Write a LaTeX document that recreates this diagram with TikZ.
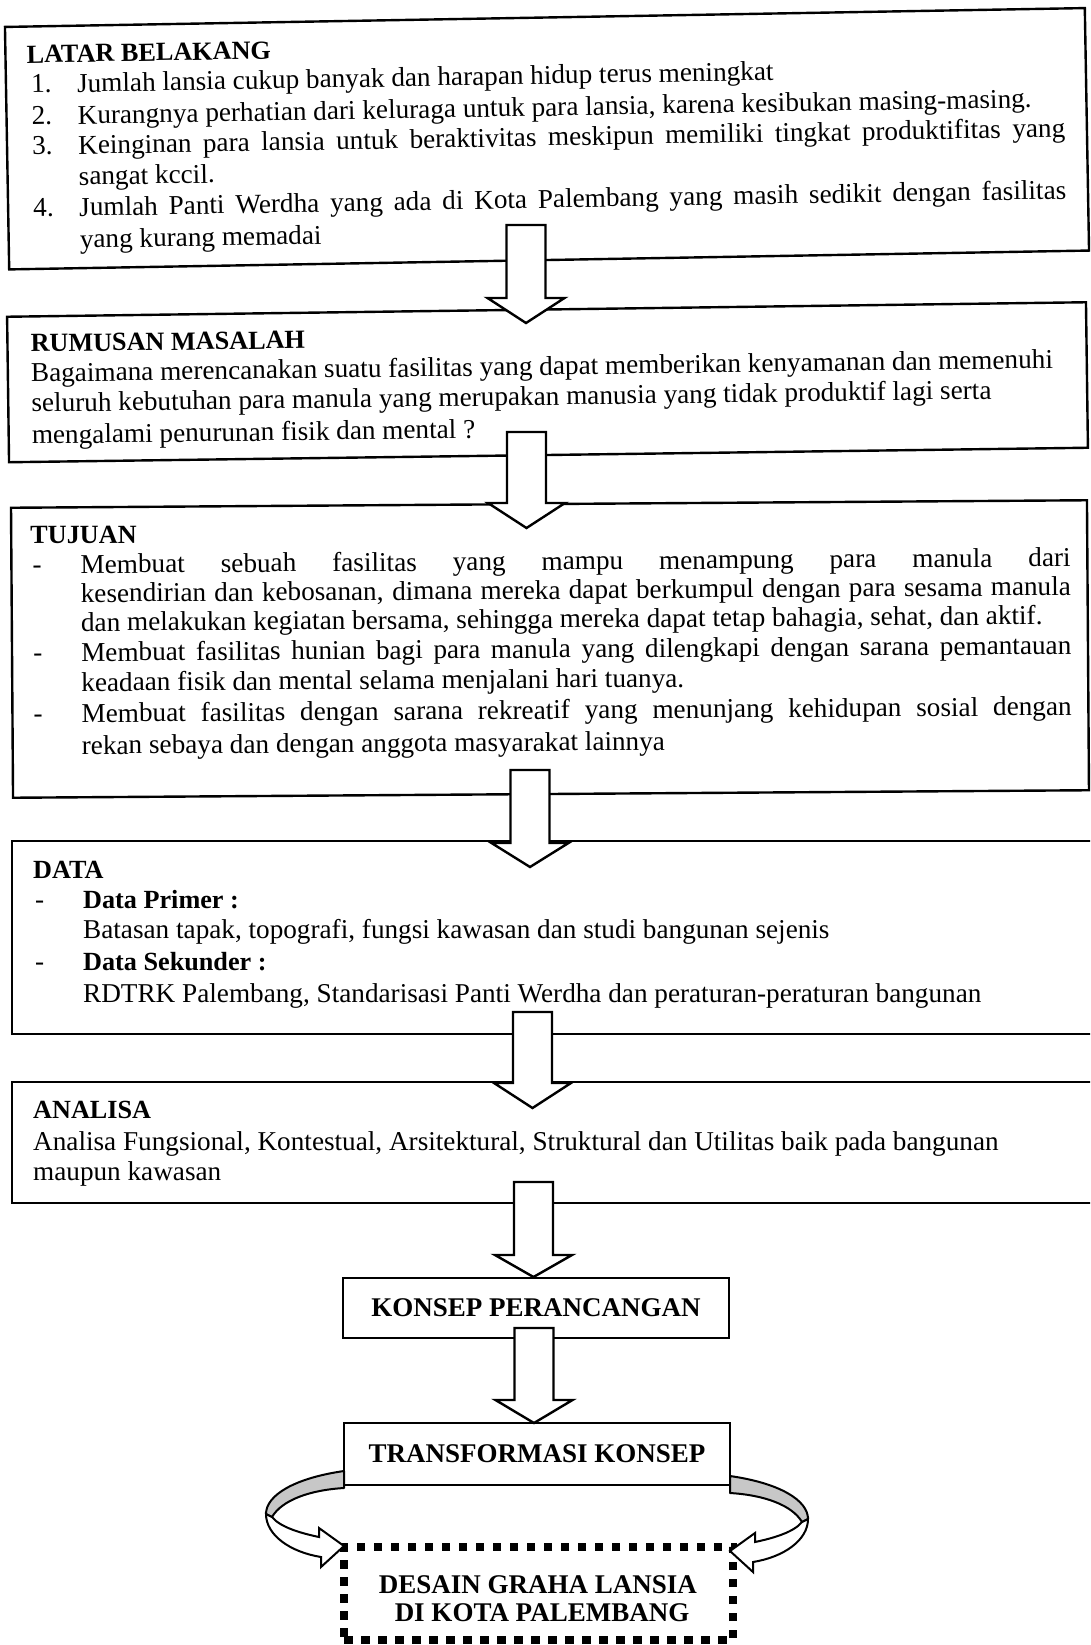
\documentclass[tikz,border=0pt]{standalone}
\usepackage{fontspec}
\setmainfont{Liberation Serif}
\newcommand\bodyfont{\fontsize{27.2}{30}\selectfont}
\newcommand\headfont{\bfseries\fontsize{26.2}{29}\selectfont}
\newcommand\bigfont{\bfseries\fontsize{27}{30}\selectfont}
\newcommand\jl[2]{\makebox[#1pt][s]{#2}}
\newcommand\barrow[4]{%
  \draw[blockarrow] ({#1-19.5},#2) -- ({#1+19.5},#2) -- ({#1+19.5},#3) -- ({#1+38.5},#3)
    -- (#1,#4) -- ({#1-38.5},#3) -- ({#1-19.5},#3) -- cycle;}
\begin{document}
\begin{tikzpicture}[x=1pt,y=-1pt,
  boxline/.style={line width=2.4pt},
  ln/.style={anchor=base west, inner sep=0pt, font=\bodyfont},
  hd/.style={anchor=base west, inner sep=0pt, font=\headfont},
  blockarrow/.style={draw, fill=white, line width=2.4pt, line join=miter},
  bbox/.style={draw, fill=white, line width=2.4pt, minimum width=386pt, minimum height=60pt, inner sep=0pt, font=\bigfont},
  dotbox/.style={draw, line width=8.5pt, dash pattern=on 8.5pt off 8.5pt, minimum width=389pt, minimum height=93pt, inner sep=0pt},
  bandshade/.style={draw, fill=black!22, line width=2pt, line join=round},
  bandwhite/.style={draw, fill=white, line width=2pt, line join=miter},
]
\useasboundingbox (0,0) rectangle (1090,1645);
\clip (0,0) rectangle (1090,1645);

% ---------- LATAR BELAKANG ----------
\begin{scope}[rotate around={1:(547,139)}, transform shape]
\draw[boxline] (7,17.5) rectangle (1087,260);
\node[hd] (lb) at (28,54) {LATAR BELAKANG};
\node[ln] (n1) at (32,84) {1.};
\node[ln] (t1) at (78,84) {Jumlah lansia cukup banyak dan harapan hidup terus meningkat};
\node[ln] (n2) at (32,116) {2.};
\node[ln] (t2) at (78,116) {Kurangnya perhatian dari keluraga untuk para lansia, karena kesibukan masing-masing.};
\node[ln] (n3) at (32,146) {3.};
\node[ln] (t3) at (78,146) {\jl{987}{Keinginan para lansia untuk beraktivitas meskipun memiliki tingkat produktifitas yang}};
\node[ln] (t3b) at (78,177) {sangat kccil.};
\node[ln] (n4) at (32,208) {4.};
\node[ln] (t4) at (78,208) {\jl{987}{Jumlah Panti Werdha yang ada di Kota Palembang yang masih sedikit dengan fasilitas}};
\node[ln] (t4b) at (78,240) {yang kurang memadai};
\end{scope}

% ---------- RUMUSAN MASALAH ----------
\begin{scope}[rotate around={0.77:(547,382)}, transform shape]
\draw[boxline] (8,309.5) rectangle (1087,455);
\node[hd] (rm) at (31,345) {RUMUSAN MASALAH};
\node[ln] (r1) at (31,375) {Bagaimana merencanakan suatu fasilitas yang dapat memberikan kenyamanan dan memenuhi};
\node[ln] (r2) at (31,405) {seluruh kebutuhan para manula yang merupakan manusia yang tidak produktif lagi serta};
\node[ln] (r3) at (31,437) {mengalami penurunan fisik dan mental ?};
\end{scope}

% ---------- TUJUAN ----------
\begin{scope}[rotate around={0.4:(550,650)}, transform shape]
\draw[boxline] (12,504) rectangle (1088,794);
\node[hd] (tj) at (31,540) {TUJUAN};
\node[ln] (d1) at (33,570) {-};
\node[ln] (u1) at (81,570) {\jl{990}{Membuat sebuah fasilitas yang mampu menampung para manula dari}};
\node[ln] (u2) at (81,599) {\jl{990}{kesendirian dan kebosanan, dimana mereka dapat berkumpul dengan para sesama manula}};
\node[ln] (u3) at (81,628) {dan melakukan kegiatan bersama, sehingga mereka dapat tetap bahagia, sehat, dan aktif.};
\node[ln] (d2) at (33,658) {-};
\node[ln] (u4) at (81,658) {\jl{990}{Membuat fasilitas hunian bagi para manula yang dilengkapi dengan sarana pemantauan}};
\node[ln] (u5) at (81,688) {keadaan fisik dan mental selama menjalani hari tuanya.};
\node[ln] (d3) at (33,719) {-};
\node[ln] (u6) at (81,719) {\jl{990}{Membuat fasilitas dengan sarana rekreatif yang menunjang kehidupan sosial dengan}};
\node[ln] (u7) at (81,751) {rekan sebaya dan dengan anggota masyarakat lainnya};
\end{scope}

% ---------- DATA ----------
\draw[boxline] (1100,841) -- (12,841) -- (12,1034) -- (1100,1034);
\node[hd] (dt) at (33,878) {DATA};
\node[ln] (e1) at (35,908) {-};
\node[hd] (dp) at (83,908) {Data Primer :};
\node[ln] (dpt) at (83,938) {Batasan tapak, topografi, fungsi kawasan dan studi bangunan sejenis};
\node[ln] (e2) at (35,970) {-};
\node[hd] (ds) at (83,970) {Data Sekunder :};
\node[ln] (dst) at (83,1002) {RDTRK Palembang, Standarisasi Panti Werdha dan peraturan-peraturan bangunan};

% ---------- ANALISA ----------
\draw[boxline] (1100,1082) -- (12,1082) -- (12,1203) -- (1100,1203);
\node[hd] (an) at (33,1118) {ANALISA};
\node[ln] (a1) at (33,1150) {Analisa Fungsional, Kontestual, Arsitektural, Struktural dan Utilitas baik pada bangunan};
\node[ln] (a2) at (33,1180) {maupun kawasan};

% ---------- bottom boxes ----------
\node[bbox] (konsep) at (536,1308) {KONSEP PERANCANGAN};
\node[bbox, minimum height=62pt] (transf) at (537,1454) {TRANSFORMASI KONSEP};
\node[dotbox] (desain) at (538.5,1593.5) {};
\node[anchor=base, inner sep=0pt, font=\bigfont] (g1) at (538,1593) {DESAIN GRAHA LANSIA};
\node[anchor=base, inner sep=0pt, font=\bigfont] (g2) at (542,1621) {DI KOTA PALEMBANG};

% ---------- block arrows ----------
\barrow{526}{225}{298}{323}
\barrow{526.5}{432}{503}{528}
\barrow{530}{770}{843}{867}
\barrow{532.5}{1012}{1083}{1108}
\barrow{533.5}{1182}{1255}{1277}
\barrow{534}{1328}{1400}{1423}

% ---------- curved arrows ----------
\draw[bandshade] (344,1471) .. controls (295,1478) and (266,1495) .. (266,1514)
  -- (272,1517) .. controls (282,1500) and (310,1490) .. (344,1488) -- cycle;
\draw[bandwhite] (266,1514) .. controls (266,1535) and (290,1552) .. (321,1557)
  -- (321,1567) -- (344,1546) -- (319,1528) -- (319,1537)
  .. controls (300,1533) and (280,1527) .. (272,1517) -- cycle;
\draw[bandshade] (730,1476) .. controls (779,1483) and (808,1500) .. (808,1519)
  -- (802,1522) .. controls (792,1505) and (764,1495) .. (730,1493) -- cycle;
\draw[bandwhite] (808,1519) .. controls (808,1540) and (784,1557) .. (753,1562)
  -- (753,1572) -- (730,1551) -- (755,1533) -- (755,1542)
  .. controls (774,1538) and (794,1532) .. (802,1522) -- cycle;
\end{tikzpicture}
\end{document}
